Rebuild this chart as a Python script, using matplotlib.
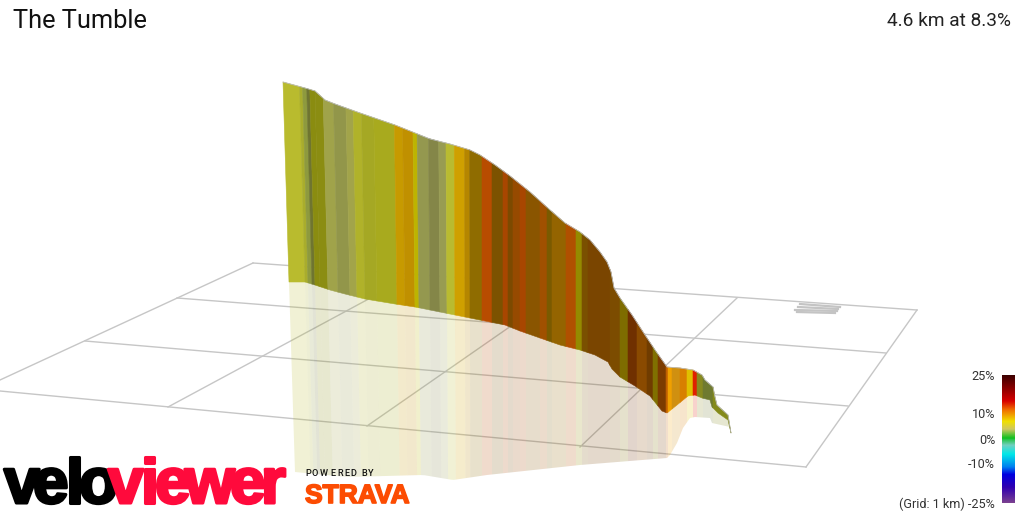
import numpy as np
import matplotlib
matplotlib.use('Agg')
import matplotlib.pyplot as plt
from matplotlib.colors import LinearSegmentedColormap
import matplotlib.patheffects as pe

# Textos
titulo = "The Tumble"
resumen = "4.6 km at 8.3%"
grad_labels = ["25%", "10%", "0%", "-10%", "(Grid: 1 km) -25%"]
grad_label_y = [375, 413, 439, 464, 503]

# Perfil (coordenadas de la imagen)
top_x = [283, 305, 315, 325, 335, 360, 395, 415, 430, 450, 470, 480, 495, 510, 530, 550, 565, 580, 590, 600, 607, 611, 614, 620, 632, 645, 655, 667, 680, 693, 702, 705, 713, 715, 717, 728, 731]
top_y = [82, 88, 91, 100, 104, 113, 125, 133, 139, 144, 150, 155, 165, 176, 192, 210, 223, 232, 240, 252, 262, 272, 288, 298, 315, 335, 350, 367, 368, 370, 375, 380, 387, 397, 405, 415, 433]
base_x = [289, 305, 315, 330, 345, 365, 395, 415, 440, 465, 490, 505, 520, 540, 560, 580, 595, 608, 612, 620, 635, 650, 662, 667, 677, 688, 695, 702, 710, 712, 718, 728, 731]
base_y = [282, 282, 285, 290, 294, 299, 304, 307, 312, 317, 322, 325, 331, 338, 345, 350, 355, 362, 369, 377, 386, 396, 411, 413, 405, 396, 395, 398, 400, 407, 413, 420, 433]
low_x = [295, 347, 423, 453, 487, 580, 667, 670, 677, 683, 690, 695, 710, 712, 730]
low_y = [472, 477, 475, 480, 475, 465, 458, 455, 443, 428, 418, 417, 418, 423, 427]

# Tramos de pendiente: borde derecho de cada franja y su color
strip_start = 289
strip_end = [305, 308, 312, 315, 320, 328, 338, 350, 357, 365, 377, 397, 405, 415, 419, 430, 440, 447, 455, 465, 470, 482, 492, 503, 508, 513, 520, 526, 540, 547, 552, 566, 576, 582, 588, 610, 620, 628, 637, 647, 653, 658, 666, 668, 672, 680, 687, 693, 697, 703, 713, 731]
strip_color = ['#b9bb2e', '#a9ad2c', '#8e9a3e', '#6f7530', '#8a8c10', '#8b8d12', '#a0a34a', '#92964a', '#a2a44a', '#b0b22a', '#a5a824', '#a8aa1e', '#c79a00', '#c09000', '#bdb400', '#94984f', '#848648', '#989c52', '#b9bb30', '#cfa000', '#b58600', '#8f6c00', '#b84c00', '#7c5200', '#a84600', '#7c4a00', '#964a00', '#a84600', '#8a5500', '#a05000', '#7a5a00', '#946400', '#b05000', '#948a00', '#7a5000', '#7a4500', '#7c4c00', '#7e6c00', '#703000', '#8a4a00', '#703c00', '#807000', '#7c3c00', '#c06000', '#f0a000', '#d09010', '#d88000', '#e0c000', '#e02000', '#888a20', '#6f7a30', '#848a1a']

# Rejilla
grid_from = [(253, 263), (917, 310), (0, 391), (85, 341), (177, 298), (253, 263), (168, 407), (367, 426), (580, 447)]
grid_to = [(917, 310), (806, 467), (806, 467), (848, 406), (886, 353), (0, 380), (415, 274), (570, 285), (737, 298)]
track_from = [(800, 304), (798, 307), (795, 310), (797, 312)]
track_to = [(840, 307), (838, 309), (837, 311), (835, 313)]

# Escala de pendiente
bar_colors = ['#3d0000', '#8a0000', '#d80000', '#f07000', '#f0e000', '#d0c860', '#10c020', '#70d0c0', '#00e8e8', '#0080f0', '#0000e0', '#3000b0', '#7a4090']
bar_pos = [0.0, 0.10, 0.2, 0.27, 0.36, 0.42, 0.49, 0.55, 0.62, 0.72, 0.78, 0.88, 1.0]

fig = plt.figure(figsize=(10.24, 5.12), dpi=100)
ax = fig.add_axes([0, 0, 1, 1])

for a, b in zip(grid_from, grid_to):
    ax.plot([a[0], b[0]], [a[1], b[1]], color='#c6c6c6', lw=1, zorder=1)
for a, b in zip(track_from, track_to):
    ax.plot([a[0], b[0]], [a[1], b[1]], color='#c4c4c4', lw=1.6, zorder=1)

def offset(x):
    # la pared solo se inclina en la parte izquierda
    return 6 * np.clip((480 - x) / (480 - 289), 0, 1)

left = strip_start
for right, col in zip(strip_end, strip_color):
    inner = [v for v in base_x + low_x + top_x if left < v < right]
    xs = np.array([left] + sorted(set(inner)) + [right], dtype=float)
    off = offset(xs)
    y_top = np.interp(xs - off, top_x, top_y)
    y_base = np.interp(xs, base_x, base_y)
    y_low = np.interp(xs + off, low_x, low_y)
    # reflejo palido
    ax.fill(np.r_[xs, (xs + off)[::-1]], np.r_[y_base, y_low[::-1]], color=col, alpha=0.2, lw=0, zorder=2)
    # pared
    ax.fill(np.r_[xs - off, xs[::-1]], np.r_[y_top, y_base[::-1]], facecolor=col, edgecolor=col, lw=0.4, zorder=3)
    left = right

ax.plot(top_x, top_y, color='#bcbcbc', lw=0.6, zorder=4)

cmap = LinearSegmentedColormap.from_list('pend', list(zip(bar_pos, bar_colors)))
ax.imshow(np.linspace(0, 1, 128).reshape(-1, 1), cmap=cmap, extent=[1002, 1015, 503, 375], aspect='auto', zorder=3)

ax.text(13, 21, titulo, fontsize=18.3, family='Roboto', color='#111111', va='center', ha='left')
ax.text(1011, 20.5, resumen, fontsize=13.8, family='Roboto', color='#222222', va='center', ha='right')
for lab, y in zip(grad_labels, grad_label_y):
    ax.text(995, y + 1, lab, fontsize=9.1, family='Roboto', color='#333333', va='center', ha='right')

# Logos
for ch, x in zip("velo", [4, 33, 66, 79]):
    ax.text(x, 503, ch, fontsize=46, family='Liberation Sans', weight='bold', color='#000000', va='baseline', ha='left', zorder=6,
            path_effects=[pe.withStroke(linewidth=2.2, foreground='#000000')])
for ch, x in zip("viewer", [108, 141, 155, 185, 230, 261]):
    ax.text(x, 503, ch, fontsize=46, family='Liberation Sans', weight='bold', color='#ff0a3c', va='baseline', ha='left', zorder=6,
            path_effects=[pe.withStroke(linewidth=2.2, foreground='#ff0a3c')])

for ch, x in zip("POWERED BY", [305, 311.5, 320, 330.5, 337, 344, 350.5, 0, 361, 368]):
    if ch != ' ':
        ax.text(x, 473.5, ch, fontsize=6.6, family='Roboto', weight='medium', color='#111111', va='center', ha='left', zorder=6)
ax.text(305, 503, "STRAVA", fontsize=19, family='Liberation Sans', weight='bold', color='#fc4c02', va='baseline', ha='left', zorder=6,
        path_effects=[pe.withStroke(linewidth=1.2, foreground='#fc4c02')])

ax.set_xlim(0, 1024)
ax.set_ylim(512, 0)
ax.axis('off')

fig.savefig('out.png', dpi=100)
